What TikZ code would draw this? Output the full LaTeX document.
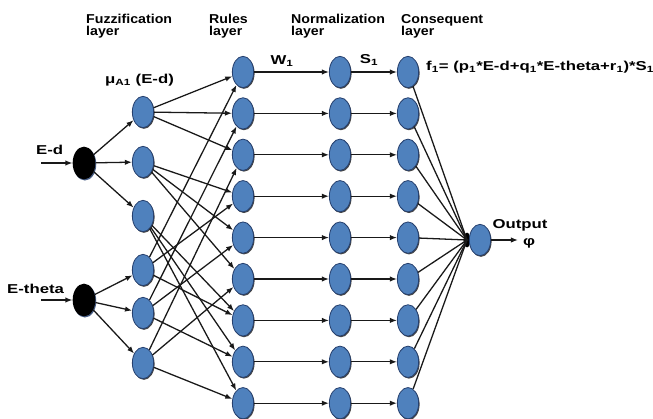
\documentclass[tikz,border=0pt]{standalone}
\usepackage{fontspec}
\setmainfont{Liberation Sans}[FakeStretch=1.1]
\newfontfamily\widefont{Liberation Sans}[FakeStretch=1.3]
\usepackage{tikz}
\usetikzlibrary{shapes.geometric}
\usetikzlibrary{arrows.meta}
\usetikzlibrary{shadows}

\definecolor{nodeblue}{RGB}{79,129,189}
\definecolor{nodeedge}{RGB}{38,64,110}

\tikzset{
  neuron/.style={ellipse, draw=nodeedge, fill=nodeblue, line width=0.7pt,
    minimum width=6.4mm, minimum height=9.4mm, inner sep=0pt,
    drop shadow={shadow xshift=0.8pt, shadow yshift=-1pt, fill=black!85, opacity=0.85}},
  inneuron/.style={ellipse, fill=black, minimum width=6.8mm, minimum height=9.8mm, inner sep=0pt,
    drop shadow={shadow xshift=0.8pt, shadow yshift=-1pt, fill=nodeedge, opacity=0.85}},
  wire/.style={draw=black!90, line width=1.1pt},
  arrowwire/.style={wire, -{Latex[length=6pt,width=4.6pt]}},
  lbl/.style={font=\bfseries\fontsize{11}{10.5}\selectfont, align=left, inner sep=0pt},
  widelbl/.style={lbl, font=\widefont\bfseries\fontsize{11}{10.5}\selectfont}
}

\begin{document}
\begin{tikzpicture}[x=0.3mm, y=-0.3mm]
    \useasboundingbox (0,0) rectangle (653,419);
    % Layer titles:
    \node[lbl, anchor=north west] (tFuzz) at (86,14) {Fuzzification\\layer};
    \node[lbl, anchor=north west] (tRule) at (209,14) {Rules\\layer};
    \node[lbl, anchor=north west] (tNorm) at (291,14) {Normalization\\layer};
    \node[lbl, anchor=north west] (tCons) at (401,14) {Consequent\\layer};

    % Inputs:
    \node[inneuron] (Ed) at (84,163) {};
    \node[inneuron] (Eth) at (84,300) {};
    \coordinate (EdIn) at (41,163);
    \coordinate (EthIn) at (41,300);
    \node[widelbl, anchor=west] (lEd) at (36,150) {E-d};
    \node[widelbl, anchor=west] (lEth) at (7,289) {E-theta};

    % Fuzzification, rules, normalization and consequent nodes:
    \foreach \n/\yy in {A1/112, A2/162, A3/216, B1/270, B2/313, B3/363}
        \node[neuron] (\n) at (143,\yy) {};
    \foreach \i in {1,...,9} {
        \pgfmathsetmacro{\yy}{72+41.4*(\i-1)}
        \node[neuron] (R\i) at (243,\yy) {};
        \node[neuron] (N\i) at (340,\yy) {};
        \node[neuron] (C\i) at (408,\yy) {};
    }
    \node[ellipse, fill=black, minimum width=2mm, minimum height=4.4mm, inner sep=0pt] (J) at (467,240) {};
    \node[neuron] (out) at (480,240) {};
    \coordinate (outEnd) at (518,240);

    % Wires:
    \draw[arrowwire] (EdIn) -- (Ed);
    \draw[arrowwire] (EthIn) -- (Eth);
    \foreach \k in {1,2,3} {
        \draw[arrowwire] (Ed) -- (A\k);
        \draw[arrowwire] (Eth) -- (B\k);
    }
    \foreach \a in {1,2,3} {
        \foreach \b in {1,2,3} {
            \pgfmathtruncatemacro{\r}{3*(\a-1)+\b}
            \draw[arrowwire] (A\a) -- (R\r);
            \draw[arrowwire] (B\b) -- (R\r);
        }
    }
    \foreach \i in {1,...,9} {
        \draw[arrowwire] (R\i) -- (N\i);
        \draw[arrowwire] (N\i) -- (C\i);
        \draw[wire] (C\i) -- (J.center);
    }
    \draw[arrowwire] (out) -- (outEnd);

    % Labels:
    \node[widelbl] (lW) at (282,61) {W\textsubscript{1}};
    \node[widelbl] (lS) at (369,60) {S\textsubscript{1}};
    \node[widelbl, anchor=west] (lMu) at (105,80) {μ\textsubscript{A1} (E-d)};
    \node[widelbl, anchor=west] (lF) at (426,67) {f\textsubscript{1}= (p\textsubscript{1}*E-d+q\textsubscript{1}*E-theta+r\textsubscript{1})*S\textsubscript{1}};
    \node[widelbl] (lOut) at (520,225) {Output};
    \node[widelbl] (lPhi) at (529,243) {φ};
\end{tikzpicture}
\end{document}
